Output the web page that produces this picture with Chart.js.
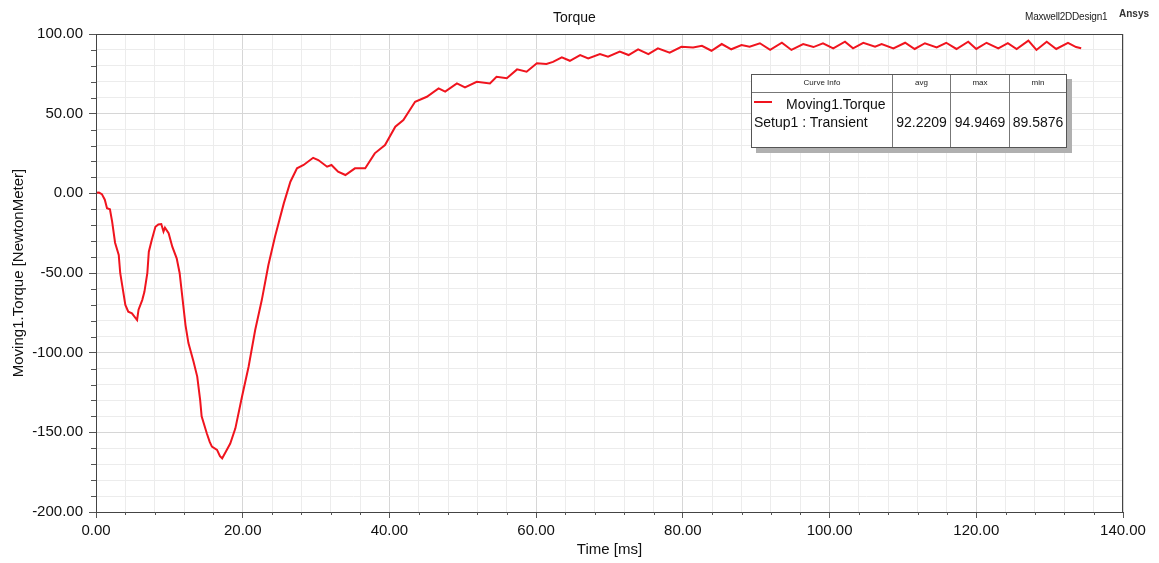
<!DOCTYPE html>
<html>
<head>
<meta charset="utf-8">
<script src="https://cdn.jsdelivr.net/npm/chart.js@4.4.1/dist/chart.umd.min.js"></script>
<style>
  body { margin: 0; background: #fff; font-family: "Liberation Sans", Arial, sans-serif; }
  #wrap { position: relative; width: 1159px; height: 563px; }
  #torqueChart { position: absolute; left: 0; top: 0; }
  .lbl { position: absolute; white-space: nowrap; color: #111; }
  #curveInfo {
    position: absolute; left: 751px; top: 74px; width: 314px; height: 72px;
    border: 1px solid #555; background: #fff;
    box-shadow: 5px 5px 0 #b0b0b0;
  }
  #curveInfo .vl { position: absolute; top: 0; bottom: 0; width: 1px; background: #777; }
  #curveInfo .hl { position: absolute; left: 0; right: 0; top: 17px; height: 1px; background: #777; }
  #curveInfo .hd { position: absolute; top: 3px; font-size: 8px; text-align: center; color: #222; }
  #curveInfo .val { position: absolute; top: 39px; font-size: 14px; text-align: center; color: #111; }
</style>
</head>
<body>
<div id="wrap">
  <canvas id="torqueChart" width="1159" height="563"></canvas>
  <div class="lbl" style="left:553px; top:9px; font-size:14px;">Torque</div>
  <div class="lbl" style="left:1025px; top:11px; font-size:10px; letter-spacing:-0.2px; color:#222;">Maxwell2DDesign1</div>
  <div class="lbl" style="left:1119px; top:8px; font-size:10px; font-weight:bold; color:#333;">Ansys</div>
  <div id="curveInfo">
    <div class="hd" style="left:0; width:140px;">Curve Info</div>
    <div class="hd" style="left:141px; width:57px;">avg</div>
    <div class="hd" style="left:199px; width:58px;">max</div>
    <div class="hd" style="left:258px; width:56px;">min</div>
    <div class="hl"></div>
    <div class="vl" style="left:140px;"></div>
    <div class="vl" style="left:198px;"></div>
    <div class="vl" style="left:257px;"></div>
    <div style="position:absolute; left:2px; top:26px; width:18px; height:2px; background:#f0141e;"></div>
    <div class="lbl" style="left:34px; top:21px; font-size:14px;">Moving1.Torque</div>
    <div class="lbl" style="left:2px; top:39px; font-size:14px;">Setup1 : Transient</div>
    <div class="val" style="left:141px; width:57px;" id="avgVal"></div>
    <div class="val" style="left:199px; width:58px;" id="maxVal"></div>
    <div class="val" style="left:258px; width:56px;" id="minVal"></div>
  </div>
</div>
<script>
// Moving1.Torque vs time
const timeMs = [
  0, 0.4, 0.8, 1.2, 1.5, 1.9, 2.2, 2.6, 3.1, 3.3,
  3.6, 4.0, 4.4, 4.9, 5.6, 5.8, 6.3, 6.6, 7.0, 7.2,
  7.6, 8.1, 8.5, 8.9, 9.2, 9.4, 9.9, 10.4, 11.0, 11.4,
  12.2, 12.6, 13.3, 13.8, 14.2, 14.4, 15.1, 15.5, 15.8, 16.5,
  16.9, 17.2, 17.6, 18.3, 19.0, 19.9, 20.8, 21.7, 22.6, 23.5,
  24.4, 25.6, 26.5, 27.4, 28.3, 29.6, 30.3, 31.5, 32.1, 33.0,
  34.0, 35.3, 36.7, 38.0, 39.4, 40.8, 41.9, 43.5, 45.1, 46.7,
  47.6, 49.2, 50.3, 51.9, 53.7, 54.6, 56.0, 57.4, 58.7, 60.1,
  61.4, 62.3, 63.5, 64.6, 66.0, 67.1, 68.7, 69.8, 71.4, 72.6,
  73.9, 75.3, 76.6, 78.2, 79.8, 81.4, 82.6, 83.9, 85.3, 86.6,
  88.0, 89.1, 90.5, 91.9, 93.5, 94.8, 96.4, 97.8, 99.1, 100.5,
  102.1, 103.2, 104.6, 106.2, 107.1, 108.7, 110.3, 111.6, 113.0, 114.6,
  115.9, 117.3, 118.9, 120.0, 121.4, 123.0, 124.3, 125.5, 127.1, 128.2,
  129.6, 130.9, 132.5, 133.6, 134.3
];
const torqueNm = [
  0.4, 0.5, -0.5, -4, -9.4, -10, -17.8, -31, -38.7, -50,
  -58.6, -70, -74.3, -75.3, -79.5, -73, -67, -61.8, -50, -36.6,
  -29.3, -21, -19.5, -19.3, -24, -21.5, -25, -33.5, -40.8, -50,
  -82.7, -94, -105.7, -115, -129.8, -140, -150.6, -156, -159, -161,
  -165, -166.3, -163, -157, -147.5, -127.7, -108.8, -85.8, -67, -45,
  -27.2, -6.3, 7.3, 15.7, 17.8, 22.3, 20.9, 16.7, 17.8, 13.6,
  11.5, 15.7, 15.7, 25.1, 30.3, 41.8, 46, 57.5, 60.6, 65.9,
  63.8, 69, 66.5, 70, 69, 73.2, 72.2, 77.8, 76.3, 81.6,
  81.2, 82.5, 85.4, 83.2, 86.8, 84.7, 87.4, 85.7, 88.9, 86.8,
  90.4, 87.4, 91, 88.3, 92, 91.6, 92.6, 89.5, 93.7, 90.4,
  93.1, 92, 94.2, 90, 94.5, 90, 93.7, 91.8, 94.2, 91,
  95.2, 91, 94.5, 92, 93.7, 91, 94.5, 90.6, 94.2, 91.6,
  94.5, 90.6, 95.2, 90.6, 94.5, 91, 94.2, 90.6, 95.8, 90,
  95.2, 90.6, 94.5, 91.8, 91
];
// stats shown in the Curve Info box
const curveStats = { avg: '92.2209', max: '94.9469', min: '89.5876' };

const xTickMajor = 20;
const yTickMajor = 50;

document.getElementById('avgVal').textContent = curveStats.avg;
document.getElementById('maxVal').textContent = curveStats.max;
document.getElementById('minVal').textContent = curveStats.min;

const points = timeMs.map((t, i) => ({ x: t, y: torqueNm[i] }));

// frame round the plot and short minor ticks
const framePlugin = {
    id: 'frame',
    afterDraw(chart) {
        const ctx = chart.ctx;
        const a = chart.chartArea;
        ctx.save();
        ctx.strokeStyle = '#444';
        ctx.lineWidth = 1;
        ctx.strokeRect(a.left + 0.5, a.top + 0.5, a.right - a.left - 1, a.bottom - a.top);
        ctx.strokeStyle = '#555';
        chart.scales.x.ticks.forEach(tk => {
            if (tk.value % xTickMajor !== 0) {
                const px = Math.round(chart.scales.x.getPixelForValue(tk.value)) + 0.5;
                ctx.beginPath();
                ctx.moveTo(px, a.bottom);
                ctx.lineTo(px, a.bottom + 3);
                ctx.stroke();
            }
        });
        chart.scales.y.ticks.forEach(tk => {
            if (tk.value % yTickMajor !== 0) {
                const py = Math.round(chart.scales.y.getPixelForValue(tk.value)) + 0.5;
                ctx.beginPath();
                ctx.moveTo(a.left - 5, py);
                ctx.lineTo(a.left, py);
                ctx.stroke();
            }
        });
        ctx.restore();
    }
};

const torqueChart = new Chart(document.getElementById('torqueChart').getContext('2d'), {
    type: 'line',
    data: {
        datasets: [{
            label: 'Moving1.Torque',
            data: points,
            borderColor: '#f0141e',
            borderWidth: 2,
            pointRadius: 0,
            tension: 0,
            fill: false
        }]
    },
    options: {
        responsive: false,
        animation: false,
        layout: { padding: { top: 34, right: 36, bottom: 0, left: 0 } },
        plugins: {
            legend: { display: false },
            title: { display: false },
            tooltip: { enabled: false }
        },
        scales: {
            x: {
                type: 'linear',
                min: 0,
                max: 140,
                afterFit: (scale) => { scale.height = 51; },
                ticks: {
                    stepSize: 4,
                    autoSkip: false,
                    maxRotation: 0,
                    padding: 4,
                    color: '#111',
                    font: { family: 'Liberation Sans', size: 15 },
                    callback: (v) => (v % xTickMajor === 0 ? v.toFixed(2) : '')
                },
                grid: {
                    color: (c) => (c.tick && c.tick.value % xTickMajor === 0 ? '#d6d6d6' : '#ececec'),
                    tickColor: (c) => (c.tick && c.tick.value % xTickMajor === 0 ? '#555' : 'rgba(0,0,0,0)'),
                    tickLength: 6
                },
                border: { color: '#444' },
                title: {
                    display: true,
                    text: 'Time [ms]',
                    color: '#111',
                    font: { family: 'Liberation Sans', size: 15 },
                    padding: { top: 0, bottom: 4 }
                }
            },
            y: {
                min: -200,
                max: 100,
                afterFit: (scale) => { scale.width = 96; },
                ticks: {
                    stepSize: 10,
                    autoSkip: false,
                    padding: 6,
                    color: '#111',
                    font: { family: 'Liberation Sans', size: 15 },
                    callback: (v) => (v % yTickMajor === 0 ? v.toFixed(2) : '')
                },
                grid: {
                    color: (c) => (c.tick && c.tick.value % yTickMajor === 0 ? '#d6d6d6' : '#ececec'),
                    tickColor: (c) => (c.tick && c.tick.value % yTickMajor === 0 ? '#555' : 'rgba(0,0,0,0)'),
                    tickLength: 7
                },
                border: { color: '#444' },
                title: {
                    display: true,
                    text: 'Moving1.Torque [NewtonMeter]',
                    color: '#111',
                    font: { family: 'Liberation Sans', size: 15 },
                    padding: { top: 10, bottom: 0 }
                }
            }
        }
    },
    plugins: [framePlugin]
});
</script>
</body>
</html>
